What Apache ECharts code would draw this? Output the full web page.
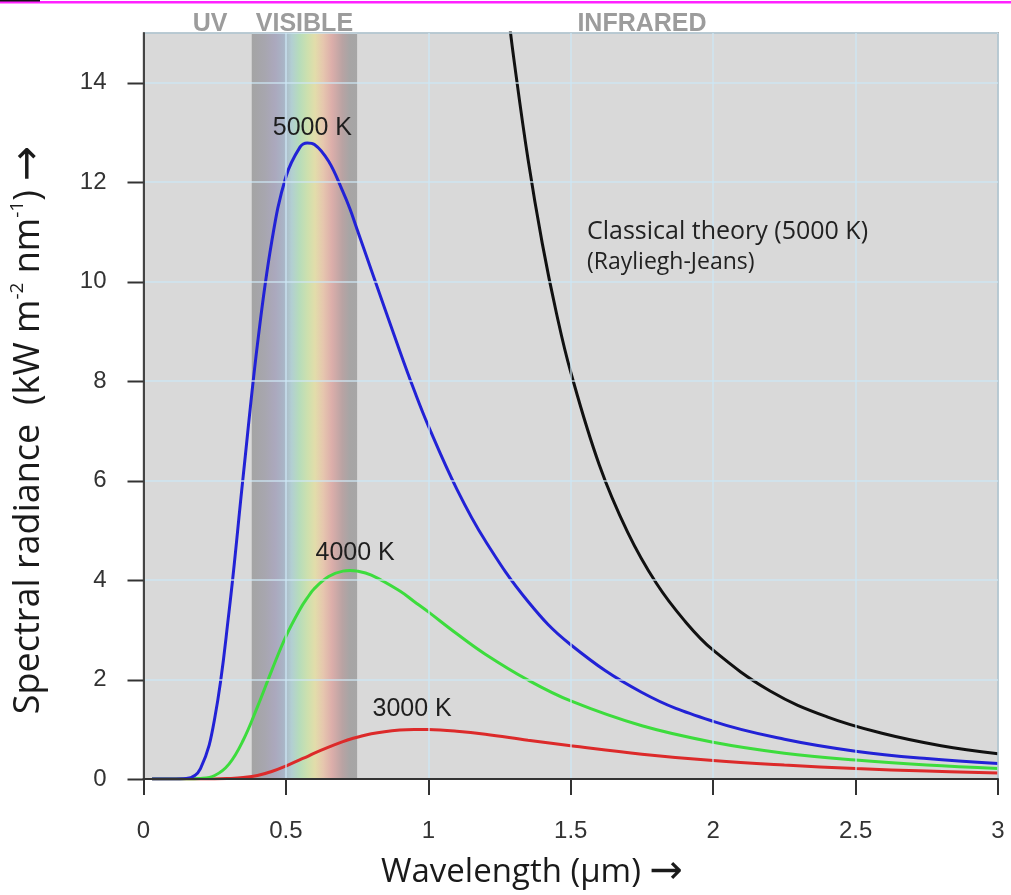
<!DOCTYPE html>
<html>
<head>
<meta charset="utf-8">
<script src="https://cdn.jsdelivr.net/npm/echarts@6/dist/echarts.min.js"></script>
<style>
  html, body { margin: 0; padding: 0; background: #ffffff; }
  #chart { width: 1011px; height: 895px; }
</style>
</head>
<body>
<div id="chart"></div>
<script>
// Black-body spectral radiance (kW m^-2 nm^-1) against wavelength (µm)
const wavelengths = [0.03, 0.1, 0.15, 0.2, 0.25, 0.3, 0.35, 0.4, 0.45, 0.5, 0.55, 0.575, 0.6, 0.65, 0.7, 0.725, 0.75, 0.8, 0.9, 0.95, 1.0, 1.1, 1.2, 1.35, 1.5, 1.75, 2.0, 2.25, 2.5, 2.75, 3.0];
const radiance5000K = [0, 0, 0.01, 0.21, 1.22, 3.35, 6.09, 8.74, 10.8, 12.11, 12.71, 12.79, 12.76, 12.42, 11.81, 11.46, 11.05, 10.23, 8.6, 7.82, 7.1, 5.83, 4.79, 3.57, 2.7, 1.74, 1.16, 0.8, 0.56, 0.41, 0.31];
const radiance4000K = [0, 0, 0, 0.01, 0.07, 0.3, 0.78, 1.45, 2.18, 2.87, 3.42, 3.64, 3.83, 4.07, 4.18, 4.19, 4.18, 4.1, 3.78, 3.57, 3.36, 2.92, 2.51, 1.99, 1.57, 1.07, 0.74, 0.52, 0.38, 0.28, 0.21];
const radiance3000K = [0, 0, 0, 0, 0, 0.01, 0.03, 0.07, 0.15, 0.26, 0.39, 0.45, 0.52, 0.64, 0.75, 0.8, 0.84, 0.91, 0.983, 0.995, 0.993, 0.96, 0.9, 0.78, 0.67, 0.5, 0.37, 0.28, 0.21, 0.16, 0.12];

// Rayleigh-Jeans (classical) curve at 5000 K
const classicalWavelengths = [1.28, 1.3, 1.35, 1.4, 1.45, 1.5, 1.6, 1.7, 1.8, 1.9, 2.0, 2.2, 2.4, 2.6, 2.8, 3.0];
const classical5000K = [15.42, 14.49, 12.46, 10.77, 9.36, 8.18, 6.32, 4.96, 3.94, 3.18, 2.59, 1.77, 1.25, 0.91, 0.67, 0.51];

// Axis ticks
const xTicks = [0, 0.5, 1, 1.5, 2, 2.5, 3];
const yTicks = [0, 2, 4, 6, 8, 10, 12, 14];

// Visible band and spectral region headers
const visibleBand = [0.38, 0.75];
const regionNames = ['UV', 'VISIBLE', 'INFRARED'];
const regionCentres = [0.234, 0.565, 1.75];

// Curve annotations: [text, wavelength, radiance]
const curveLabels = [
  ['5000 K', 0.593, 13.08],
  ['4000 K', 0.743, 4.55],
  ['3000 K', 0.943, 1.41]
];
const classicalLabel = ['Classical theory (5000 K)', '(Rayliegh-Jeans)'];
const classicalLabelAt = [[1.557, 11.0], [1.557, 10.38]];

const pairs = (xs, ys) => xs.map((x, i) => [x, ys[i]]);

const chart = echarts.init(document.getElementById('chart'), null, { renderer: 'canvas' });

const bandGradient = new echarts.graphic.LinearGradient(0, 0, 1, 0, [
  { offset: 0.00, color: '#a4a4a4' },
  { offset: 0.12, color: '#a7a6ae' },
  { offset: 0.22, color: '#aba8bd' },
  { offset: 0.30, color: '#a9b4c6' },
  { offset: 0.38, color: '#b2cfd2' },
  { offset: 0.45, color: '#b6dcbb' },
  { offset: 0.53, color: '#cde0ae' },
  { offset: 0.60, color: '#e2ddaa' },
  { offset: 0.68, color: '#e6c6ae' },
  { offset: 0.76, color: '#dcaeaa' },
  { offset: 0.86, color: '#b9a3a3' },
  { offset: 0.93, color: '#a7a5a5' },
  { offset: 1.00, color: '#a6a6a6' }
]);

const tickFont = { fontFamily: 'Liberation Sans, Arial, sans-serif', fontSize: 24, color: '#333333' };
const gridLine = { show: true, lineStyle: { color: 'rgba(205,230,244,0.85)', width: 1.5 } };
const tickStyle = { color: '#333333', width: 2 };

const lineSeries = (name, data, color) => ({
  name,
  type: 'line',
  data,
  symbol: 'none',
  smooth: 0.4,
  clip: true,
  z: 3,
  lineStyle: { color, width: 3 }
});

chart.setOption({
  animation: false,
  backgroundColor: '#ffffff',
  grid: {
    left: 143.5, right: 13, top: 33, bottom: 116,
    show: true,
    backgroundColor: '#d9d9d9',
    borderColor: '#7a7a7a',
    borderWidth: 1.5
  },
  xAxis: {
    type: 'value',
    min: xTicks[0], max: xTicks[xTicks.length - 1], interval: 0.5,
    z: 10,
    axisLine: { show: true, onZero: false, lineStyle: { color: '#333333', width: 2 } },
    axisTick: { show: true, length: 16, lineStyle: tickStyle },
    axisLabel: Object.assign({ margin: 40 }, tickFont),
    splitLine: gridLine
  },
  yAxis: {
    type: 'value',
    min: 0, max: 15, interval: 2,
    z: 10,
    axisLine: { show: true, onZero: false, lineStyle: { color: '#444444', width: 2 } },
    axisTick: { show: false },
    axisLabel: Object.assign({
      margin: 37,
      formatter: (v) => (yTicks.indexOf(v) >= 0 ? String(v) : '')
    }, tickFont),
    splitLine: gridLine
  },
  series: [
    Object.assign(lineSeries('3000 K', pairs(wavelengths, radiance3000K), '#dc2a2a'), {
      markArea: {
        silent: true,
        itemStyle: { color: bandGradient },
        data: [[{ xAxis: visibleBand[0] }, { xAxis: visibleBand[1] }]]
      }
    }),
    lineSeries('4000 K', pairs(wavelengths, radiance4000K), '#3ddc3d'),
    lineSeries('5000 K', pairs(wavelengths, radiance5000K), '#2222d6'),
    lineSeries('Classical theory (5000 K)', pairs(classicalWavelengths, classical5000K), '#111111')
  ]
});

// Text and y ticks placed in data coordinates once the grid exists
const toPx = (x, y) => chart.convertToPixel({ gridIndex: 0 }, [x, y]);
const annotationFont = 'Liberation Sans, Arial, sans-serif';
const titleFont = 'Open Sans, Noto Sans, sans-serif';
const arrowFont = 'DejaVu Sans, sans-serif';
const graphics = [];

// Magenta rule along the top edge
graphics.push({ type: 'rect', shape: { x: 0, y: 1, width: 1011, height: 2.5 }, style: { fill: '#ff22ff' } });
graphics.push({ type: 'rect', shape: { x: 0, y: 0, width: 40, height: 1.5 }, style: { fill: '#111111' } });

// Outward ticks on the y axis at the labelled values
yTicks.forEach((v) => {
  const p = toPx(0, v);
  graphics.push({
    type: 'line', z: 30,
    shape: { x1: p[0] - 16, y1: Math.round(p[1]) + 0.5, x2: p[0], y2: Math.round(p[1]) + 0.5 },
    style: { stroke: tickStyle.color, lineWidth: tickStyle.width }
  });
});

regionNames.forEach((name, i) => {
  const p = toPx(regionCentres[i], 0);
  graphics.push({
    type: 'text', x: p[0], y: 24, z: 20,
    style: { text: name, fill: '#9c9c9c', font: 'bold 25px Liberation Sans, Arial, sans-serif', align: 'center', verticalAlign: 'middle' }
  });
});

curveLabels.forEach(([text, x, y]) => {
  const p = toPx(x, y);
  graphics.push({
    type: 'text', x: p[0], y: p[1], z: 20,
    style: { text, fill: '#1e1e1e', font: '25px ' + annotationFont, align: 'center', verticalAlign: 'middle' }
  });
});

classicalLabel.forEach((text, i) => {
  const p = toPx(classicalLabelAt[i][0], classicalLabelAt[i][1]);
  graphics.push({
    type: 'text', x: p[0], y: p[1], z: 20,
    style: { text, fill: '#222222', font: (i === 0 ? '25px ' : '23px ') + titleFont, align: 'left', verticalAlign: 'middle' }
  });
});

// Axis titles
graphics.push({
  type: 'text', x: 532, y: 873, z: 20,
  style: {
    text: 'Wavelength (\u03bcm) {arr|\u2192}',
    fill: '#1a1a1a', font: '33px ' + titleFont, align: 'center', verticalAlign: 'middle',
    rich: {
      arr: { fontSize: 40, fontFamily: arrowFont, fill: '#1a1a1a', verticalAlign: 'middle' }
    }
  }
});
graphics.push({
  type: 'text', x: 29, y: 430, rotation: Math.PI / 2, z: 20,
  style: {
    text: 'Spectral radiance  (kW m{sup|-2} nm{sup|-1}) {arr|\u2192}',
    fill: '#1a1a1a', font: '36px ' + titleFont, align: 'center', verticalAlign: 'middle',
    rich: {
      sup: { fontSize: 19, fontFamily: titleFont, fill: '#1a1a1a', lineHeight: 20, verticalAlign: 'top' },
      arr: { fontSize: 42, fontFamily: arrowFont, fill: '#1a1a1a', verticalAlign: 'middle' }
    }
  }
});

chart.setOption({ graphic: graphics });
</script>
</body>
</html>
